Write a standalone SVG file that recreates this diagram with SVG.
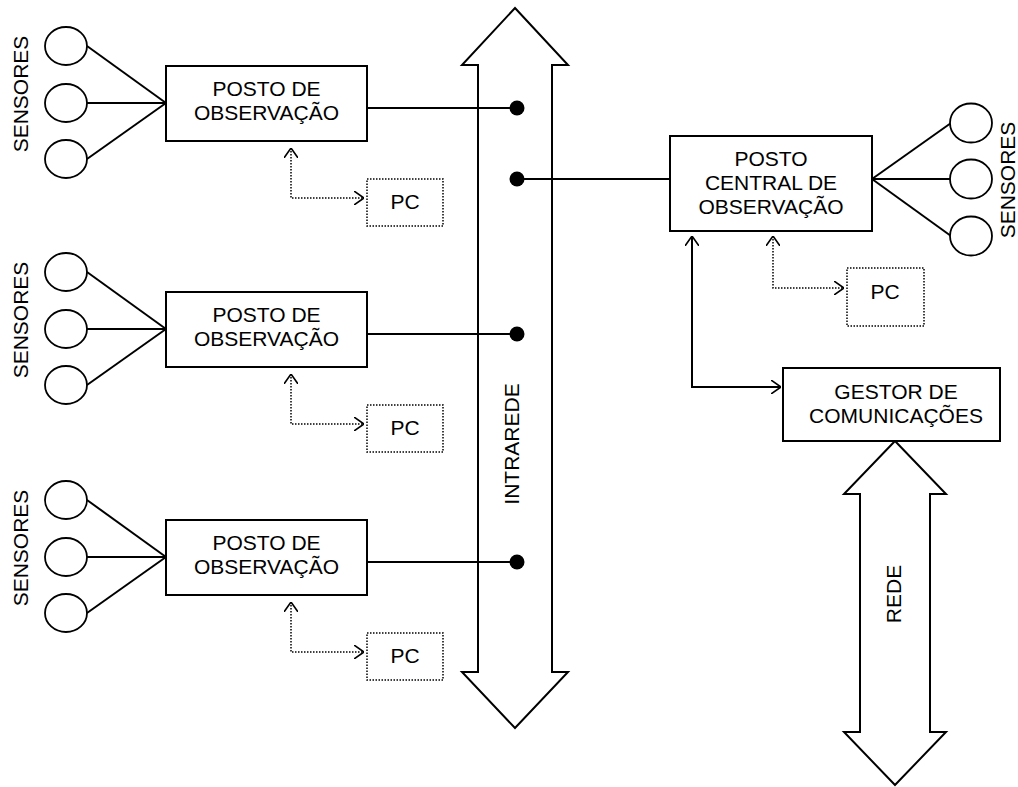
<svg xmlns="http://www.w3.org/2000/svg" width="1018" height="787" viewBox="0 0 1018 787">
<style>
text{font-family:"Liberation Sans",Arial,sans-serif;font-size:21px;fill:#000;text-anchor:middle}
.box{fill:#fff;stroke:#000;stroke-width:2}
.pc{fill:#fff;stroke:#000;stroke-width:1.5;stroke-dasharray:1.5 1.5}
.sen{fill:#fff;stroke:#000;stroke-width:1.8}
.ln{fill:none;stroke:#000;stroke-width:2}
.dot{fill:none;stroke:#000;stroke-width:1.5;stroke-dasharray:1.5 1.5}
.bus{fill:#fff;stroke:#000;stroke-width:2;stroke-linejoin:miter}
</style>
<defs>
<marker id="ah" viewBox="0 0 10 14" refX="10" refY="7" markerWidth="10" markerHeight="14" markerUnits="userSpaceOnUse" orient="auto-start-reverse">
<path d="M0,0 L10,7 L0,14" fill="none" stroke="#000" stroke-width="1.6"/>
</marker>
</defs>
<rect width="1018" height="787" fill="#fff"/>

<g id="intrarede">
<polygon class="bus" points="515,8 568,65 552,65 552,672 568,672 515,728 462,672 478,672 478,65 462,65"/>
<text transform="translate(519,444) rotate(-90)">INTRAREDE</text>
</g>

<g id="rede">
<polygon class="bus" points="895,441 946,494 930,494 930,732 946,732 895,785 844,732 860,732 860,494 844,494"/>
<text transform="translate(901,594) rotate(-90)">REDE</text>
</g>

<g id="connectors">
<line class="ln" x1="367" y1="108" x2="517" y2="108"/>
<line class="ln" x1="517" y1="179" x2="670" y2="179"/>
<line class="ln" x1="367" y1="334" x2="517" y2="334"/>
<line class="ln" x1="367" y1="562" x2="517" y2="562"/>
<circle cx="517" cy="108" r="7.5"/>
<circle cx="517" cy="179" r="7.5"/>
<circle cx="517" cy="334" r="7.5"/>
<circle cx="517" cy="562" r="7.5"/>
<path class="dot" d="M291,148 V198 H364" marker-start="url(#ah)" marker-end="url(#ah)"/>
<path class="dot" d="M291,374 V424 H364" marker-start="url(#ah)" marker-end="url(#ah)"/>
<path class="dot" d="M291,602 V652 H364" marker-start="url(#ah)" marker-end="url(#ah)"/>
<path class="dot" d="M773,236 V288 H844" marker-start="url(#ah)" marker-end="url(#ah)"/>
<path class="ln" d="M692,236 V387 H781" marker-start="url(#ah)" marker-end="url(#ah)"/>
</g>

<g id="sensores1">
<line class="ln" x1="87" y1="46" x2="166" y2="103"/>
<line class="ln" x1="87" y1="103" x2="166" y2="103"/>
<line class="ln" x1="87" y1="159" x2="166" y2="103"/>
<ellipse class="sen" cx="66" cy="46" rx="21" ry="19"/>
<ellipse class="sen" cx="66" cy="103" rx="21" ry="19"/>
<ellipse class="sen" cx="66" cy="159" rx="21" ry="19"/>
<text transform="translate(28,94) rotate(-90)">SENSORES</text>
</g>
<g id="posto1">
<rect class="box" x="166" y="66" width="201" height="75"/>
<text x="266.5" y="96">POSTO DE</text>
<text x="266.5" y="120">OBSERVAÇÃO</text>
</g>
<g id="pc1">
<rect class="pc" x="367" y="179" width="76" height="47"/>
<text x="405" y="209">PC</text>
</g>

<g id="sensores2">
<line class="ln" x1="87" y1="272" x2="166" y2="329"/>
<line class="ln" x1="87" y1="329" x2="166" y2="329"/>
<line class="ln" x1="87" y1="385" x2="166" y2="329"/>
<ellipse class="sen" cx="66" cy="272" rx="21" ry="19"/>
<ellipse class="sen" cx="66" cy="329" rx="21" ry="19"/>
<ellipse class="sen" cx="66" cy="385" rx="21" ry="19"/>
<text transform="translate(28,320) rotate(-90)">SENSORES</text>
</g>
<g id="posto2">
<rect class="box" x="166" y="292" width="201" height="75"/>
<text x="266.5" y="322">POSTO DE</text>
<text x="266.5" y="346">OBSERVAÇÃO</text>
</g>
<g id="pc2">
<rect class="pc" x="367" y="405" width="76" height="47"/>
<text x="405" y="435">PC</text>
</g>

<g id="sensores3">
<line class="ln" x1="87" y1="500" x2="166" y2="557"/>
<line class="ln" x1="87" y1="557" x2="166" y2="557"/>
<line class="ln" x1="87" y1="613" x2="166" y2="557"/>
<ellipse class="sen" cx="66" cy="500" rx="21" ry="19"/>
<ellipse class="sen" cx="66" cy="557" rx="21" ry="19"/>
<ellipse class="sen" cx="66" cy="613" rx="21" ry="19"/>
<text transform="translate(28,548) rotate(-90)">SENSORES</text>
</g>
<g id="posto3">
<rect class="box" x="166" y="520" width="201" height="75"/>
<text x="266.5" y="550">POSTO DE</text>
<text x="266.5" y="574">OBSERVAÇÃO</text>
</g>
<g id="pc3">
<rect class="pc" x="367" y="633" width="76" height="47"/>
<text x="405" y="663">PC</text>
</g>

<g id="sensores-central">
<line class="ln" x1="872" y1="179" x2="951" y2="123"/>
<line class="ln" x1="872" y1="179" x2="950" y2="179"/>
<line class="ln" x1="872" y1="179" x2="951" y2="236"/>
<ellipse class="sen" cx="971" cy="123" rx="21" ry="19.5"/>
<ellipse class="sen" cx="971" cy="179" rx="21" ry="19.5"/>
<ellipse class="sen" cx="971" cy="236" rx="21" ry="19.5"/>
<text transform="translate(1015,180) rotate(-90)">SENSORES</text>
</g>
<g id="posto-central">
<rect class="box" x="670" y="136" width="202" height="95"/>
<text x="771" y="166">POSTO</text>
<text x="771" y="190">CENTRAL DE</text>
<text x="771" y="214">OBSERVAÇÃO</text>
</g>
<g id="pc-central">
<rect class="pc" x="847" y="268" width="77" height="58"/>
<text x="885" y="299">PC</text>
</g>
<g id="gestor">
<rect class="box" x="783" y="368" width="217" height="73"/>
<text x="896" y="399">GESTOR DE</text>
<text x="896" y="423">COMUNICAÇÕES</text>
</g>
</svg>
